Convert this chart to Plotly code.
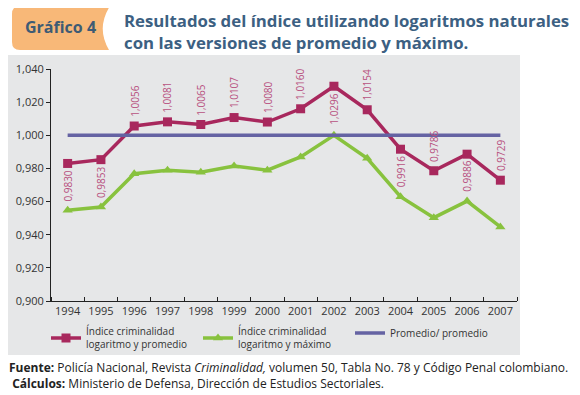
import plotly.graph_objects as go

W, H = 580, 395
OFF = 8  # page body margin
FW, FH = W - OFF, H - OFF

years = list(range(1994, 2008))
promedio = [0.9830, 0.9853, 1.0056, 1.0081, 1.0065, 1.0107, 1.0080, 1.0160,
            1.0296, 1.0154, 0.9916, 0.9786, 0.9886, 0.9729]
maximo = [0.9547, 0.9567, 0.9768, 0.9789, 0.9777, 0.9815, 0.9789, 0.9869,
          1.0000, 0.9861, 0.9629, 0.9503, 0.9603, 0.9447]
referencia = [1.0] * len(years)
label_side = ['below', 'below', 'above', 'above', 'above', 'above', 'above', 'above',
              'below', 'above', 'below', 'above', 'below', 'above']
ytick_vals = [0.90, 0.92, 0.94, 0.96, 0.98, 1.00, 1.02, 1.04]
ytick_text = ['0,900', '0,920', '0,940', '0,960', '0,980', '1,000', '1,020', '1,040']

names = ['Índice criminalidad<br>logaritmo y promedio',
         'Índice criminalidad<br>logaritmo y máximo',
         'Promedio/ promedio']

RED = '#a8285d'
GREEN = '#88c23e'
PURPLE = '#6563a3'
LABEL = '#b8517f'
FONT = 'Open Sans'


def px(x):
    return (x - OFF) / FW


def py(y):
    return 1 - (y - OFF) / FH


fig = go.Figure()
fig.add_trace(go.Scatter(x=years, y=promedio, name=names[0], mode='lines+markers',
                         line=dict(color=RED, width=3.5),
                         marker=dict(symbol='square', size=9, color=RED)))
fig.add_trace(go.Scatter(x=years, y=maximo, name=names[1], mode='lines+markers',
                         line=dict(color=GREEN, width=3.5),
                         marker=dict(symbol='triangle-up', size=9, color=GREEN)))
fig.add_trace(go.Scatter(x=years, y=referencia, name=names[2], mode='lines',
                         line=dict(color=PURPLE, width=3.5)))

annotations = []
for yr, v, side in zip(years, promedio, label_side):
    txt = f'{v:.4f}'.replace('.', ',')
    annotations.append(dict(x=yr, y=v, xref='x', yref='y', text=txt, showarrow=False,
                            textangle=-90, font=dict(family=FONT, size=10, color=LABEL),
                            yanchor='bottom' if side == 'above' else 'top',
                            yshift=7 if side == 'above' else -5))

# title
annotations.append(dict(x=px(60), y=py(27), xref='paper', yref='paper', text='<b>Gráfico 4</b>',
                        showarrow=False, xanchor='center', yanchor='middle',
                        font=dict(family=FONT, size=16, color='#3e5b74')))
annotations.append(dict(x=px(122), y=py(31), xref='paper', yref='paper',
                        text='<b>Resultados del índice utilizando logaritmos naturales<br>con las versiones de promedio y máximo.</b>',
                        showarrow=False, xanchor='left', yanchor='middle', align='left',
                        font=dict(family=FONT, size=16.8, color='#3c6082')))
# footer (two lines in one text block)
annotations.append(dict(x=px(7), y=py(375.5), xref='paper', yref='paper',
                        text=('<b>Fuente:</b> Policía Nacional, Revista <i>Criminalidad,</i> volumen 50, '
                              'Tabla No. 78 y Código Penal colombiano.<br>'
                              '&nbsp;<b>Cálculos:</b> Ministerio de Defensa, Dirección de Estudios Sectoriales.'),
                        showarrow=False, xanchor='left', yanchor='middle', align='left',
                        font=dict(family=FONT, size=12, color='#222')))

tab_path = (f'M {px(20)},{py(6)} L {px(110)},{py(6)} '
            f'Q {px(96)},{py(28)} {px(109)},{py(50)} '
            f'L {px(20)},{py(50)} Q {px(12)},{py(50)} {px(12)},{py(42)} '
            f'L {px(12)},{py(14)} Q {px(12)},{py(6)} {px(20)},{py(6)} Z')

shapes = [
    dict(type='rect', xref='paper', yref='paper', x0=px(7), x1=px(520), y0=py(355), y1=py(55),
         fillcolor='#e6e7e8', line=dict(width=0), layer='below'),
    dict(type='path', xref='paper', yref='paper', path=tab_path,
         fillcolor='#f8b878', line=dict(width=0), layer='below'),
]

fig.update_layout(
    width=FW, height=FH,
    margin=dict(l=0, r=0, t=0, b=0, autoexpand=False),
    paper_bgcolor='white', plot_bgcolor='rgba(0,0,0,0)',
    font=dict(family=FONT, size=11, color='#333'),
    showlegend=True,
    legend=dict(orientation='h', x=px(46), y=py(338), xanchor='left', yanchor='middle',
                font=dict(family=FONT, size=10, color='#333'), bgcolor='rgba(0,0,0,0)',
                entrywidth=107, entrywidthmode='pixels', itemwidth=30),
    xaxis=dict(domain=[px(51), px(517)], range=[1993.5, 2007.5], showgrid=False,
               zeroline=False, showline=True, linecolor='#222', linewidth=1,
               tickvals=years, ticks='',
               minor=dict(ticks='inside', tick0=1993.5, dtick=1, ticklen=4,
                          tickcolor='#222', showgrid=False),
               tickfont=dict(family=FONT, size=11, color='#333')),
    yaxis=dict(domain=[py(301), py(69)], range=[0.9, 1.04], showgrid=False, zeroline=False,
               showline=True, linecolor='#222', linewidth=1,
               tickvals=ytick_vals, ticktext=ytick_text,
               ticks='outside', ticklen=4, tickcolor='#222',
               tickfont=dict(family=FONT, size=11, color='#333')),
    annotations=annotations,
    shapes=shapes,
)

fig.write_html('out.html')
